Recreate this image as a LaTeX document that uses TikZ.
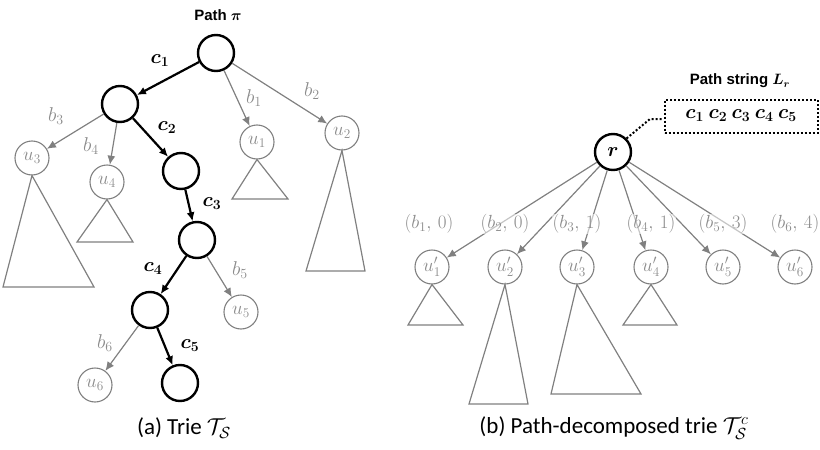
\RequirePackage{fix-cm}
\documentclass[tikz,border=0pt]{standalone}
\usepackage{amsmath}
\usepackage{bm}
\usepackage{fontspec}
\setmainfont{Carlito}
\newfontfamily\hdfont{Liberation Sans}
\usetikzlibrary{arrows.meta}
\definecolor{gline}{RGB}{128,128,128}
\definecolor{gtext}{RGB}{140,140,140}
\tikzset{
  x=1pt, y=-1pt,
  bnode/.style={circle, draw=black, line width=2.4pt, minimum size=36pt, inner sep=0pt},
  gnode/.style={circle, draw=gline, line width=1.1pt, minimum size=34pt, inner sep=0pt, text=gtext, font=\fontsize{19}{19}\selectfont},
  barrow/.style={draw=black, line width=2.2pt, -{Latex[length=9pt,width=8pt]}},
  garrow/.style={draw=gline, line width=1.2pt, -{Latex[length=9pt,width=8pt]}},
  tri/.style={draw=gline, line width=1.2pt},
  glabel/.style={text=gtext, font=\fontsize{20}{20}\selectfont, inner sep=1pt},
  blabel/.style={text=black, font=\fontsize{20}{20}\selectfont, inner sep=1pt},
  plabel/.style={text=gtext, font=\fontsize{19}{19}\selectfont, inner sep=1pt, fill=white, fill opacity=0.55, text opacity=1},
  caption/.style={font=\fontsize{23}{23}\selectfont},
  head/.style={font=\hdfont\bfseries\fontsize{15}{15}\selectfont}
}
\begin{document}
\begin{tikzpicture}
\useasboundingbox (0,0) rectangle (820,450);
% ---------- left trie ----------
\node[head] (hpi) at (218,15) {Path $\bm{\pi}$};
\node[bnode] (n0) at (216,53) {};
\node[bnode] (n1) at (120,104) {};
\node[bnode] (n2) at (181,171) {};
\node[bnode] (n3) at (197,240) {};
\node[bnode] (n4) at (150,310) {};
\node[bnode] (n5) at (180,383) {};
\node[gnode] (u1) at (257,142) {$u_1$};
\node[gnode] (u2) at (342,133) {$u_2$};
\node[gnode] (u3) at (32,158) {$u_3$};
\node[gnode] (u4) at (107,182) {$u_4$};
\node[gnode] (u5) at (241,312) {$u_5$};
\node[gnode] (u6) at (95,385) {$u_6$};
\draw[barrow] (n0) -- (n1);
\draw[barrow] (n1) -- (n2);
\draw[barrow] (n2) -- (n3);
\draw[barrow] (n3) -- (n4);
\draw[barrow] (n4) -- (n5);
\draw[garrow] (n0) -- (u1);
\draw[garrow] (n0) -- (u2);
\draw[garrow] (n1) -- (u3);
\draw[garrow] (n1) -- (u4);
\draw[garrow] (n3) -- (u5);
\draw[garrow] (n4) -- (u6);
\node[blabel] (c1) at (160,61) {$\bm{c_1}$};
\node[blabel] (c2) at (167,128) {$\bm{c_2}$};
\node[blabel] (c3) at (212,204) {$\bm{c_3}$};
\node[blabel] (c4) at (153,269) {$\bm{c_4}$};
\node[blabel] (c5) at (190,346) {$\bm{c_5}$};
\node[glabel] (b1) at (254,98) {$b_1$};
\node[glabel] (b2) at (312,91) {$b_2$};
\node[glabel] (b3) at (56,116) {$b_3$};
\node[glabel] (b4) at (91,146) {$b_4$};
\node[glabel] (b5) at (240,270) {$b_5$};
\node[glabel] (b6) at (105,343) {$b_6$};
\draw[tri] (u1.south) -- (232,199) -- (288,199) -- cycle;
\draw[tri] (u2.south) -- (306,271) -- (365,271) -- cycle;
\draw[tri] (u3.south) -- (3,287) -- (94,287) -- cycle;
\draw[tri] (u4.south) -- (77,242) -- (133,242) -- cycle;
\node[caption] (capa) at (184,428) {(a) Trie $\mathcal{T}_{\mathcal{S}}$};
% ---------- right trie ----------
\node[head] (hlr) at (740,81) {Path string $\bm{L_r}$};
\node[bnode, font=\fontsize{20}{20}\selectfont] (r) at (613,152) {$\bm{r}$};
\node[draw=black, line width=2pt, dotted, minimum width=153pt, minimum height=33pt, inner sep=0pt, font=\fontsize{20}{20}\selectfont] (box) at (741,116) {$\bm{c_1}\ \bm{c_2}\ \bm{c_3}\ \bm{c_4}\ \bm{c_5}$};
\draw[black, line width=2pt, dotted] (r.north east) -- (650,119) -- (box.west |- 0,119);
\node[gnode] (v1) at (432,267) {$u'_1$};
\node[gnode] (v2) at (505,267) {$u'_2$};
\node[gnode] (v3) at (577,267) {$u'_3$};
\node[gnode] (v4) at (651,267) {$u'_4$};
\node[gnode] (v5) at (723,267) {$u'_5$};
\node[gnode] (v6) at (795,267) {$u'_6$};
\foreach \i in {1,...,6} {\draw[garrow] (r) -- (v\i);}
\node[plabel] (p1) at (429,224) {$(b_1,\,0)$};
\node[plabel] (p2) at (505,224) {$(b_2,\,0)$};
\node[plabel] (p3) at (577,224) {$(b_3,\,1)$};
\node[plabel] (p4) at (651,224) {$(b_4,\,1)$};
\node[plabel] (p5) at (723,224) {$(b_5,\,3)$};
\node[plabel] (p6) at (795,224) {$(b_6,\,4)$};
\draw[tri] (v1.south) -- (408,325) -- (463,325) -- cycle;
\draw[tri] (v2.south) -- (469,404) -- (528,404) -- cycle;
\draw[tri] (v3.south) -- (551,394) -- (641,394) -- cycle;
\draw[tri] (v4.south) -- (623,325) -- (677,325) -- cycle;
\node[caption] (capb) at (614,428) {(b) Path-decomposed trie $\mathcal{T}_{\mathcal{S}}^{c}$};
\end{tikzpicture}
\end{document}
